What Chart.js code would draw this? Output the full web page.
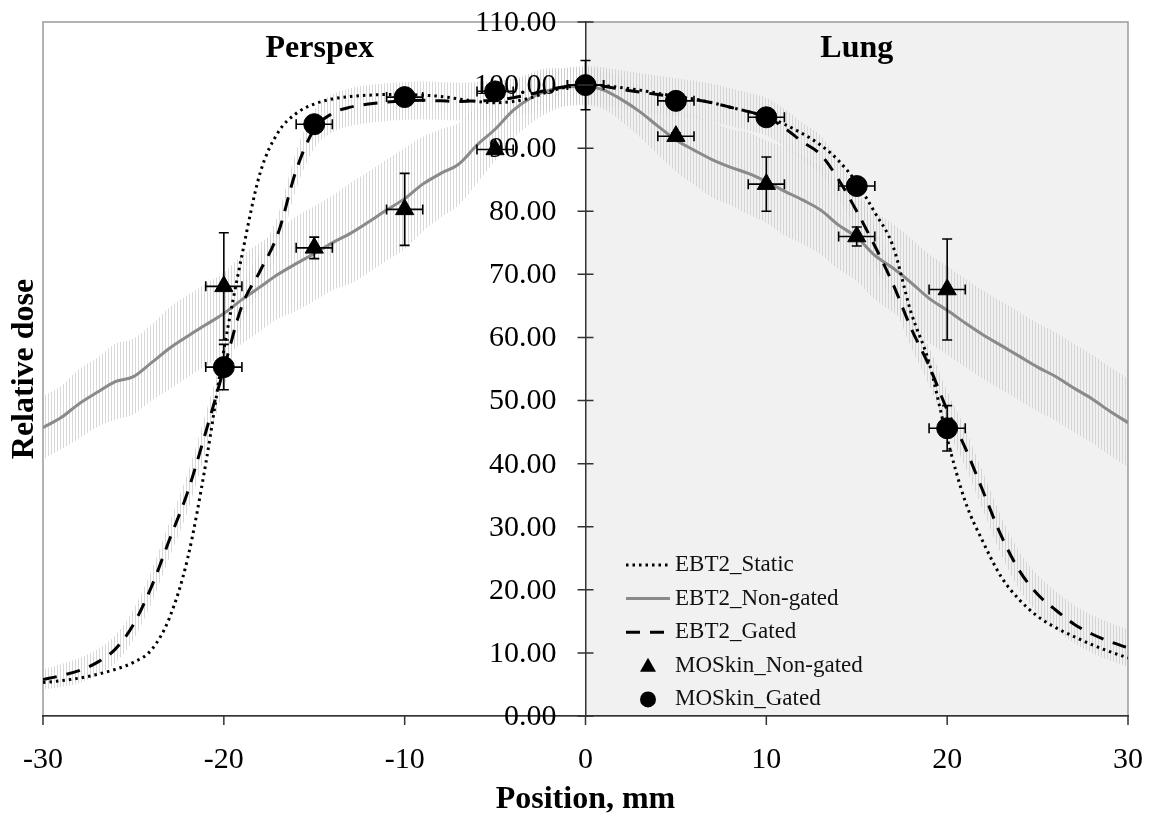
<!DOCTYPE html>
<html>
<head>
<meta charset="utf-8">
<script src="https://cdn.jsdelivr.net/npm/chart.js@4.4.0/dist/chart.umd.min.js"></script>
<style>
  html, body { margin: 0; padding: 0; background: #fff; }
  #wrap { width: 1152px; height: 819px; }
</style>
</head>
<body>
<div id="wrap"><canvas id="dose-chart" width="1152" height="819"></canvas></div>
<script>
// Profile positions (mm)
const positions = [-30,-29,-28,-27,-26,-25,-24,-23,-22,-21,-20,-19,-18,-17,-16,-15,-14,-13,-12,-11,
  -10,-9,-8,-7,-6,-5,-4,-3,-2,-1,0,1,2,3,4,5,6,7,8,9,10,11,12,13,14,15,16,17,18,19,20,
  21,22,23,24,25,26,27,28,29,30];

// EBT2 film profiles (relative dose)
const ebt2Static = [5.3,5.6,6.0,6.6,7.4,8.5,10.5,15.6,25,40,58,73,86,92.5,95.5,97,97.8,98.2,98.4,98.5,
  98.5,98.4,98.2,97.8,97.4,97.2,97.4,98,99,99.7,100,99.9,99.6,99.2,98.7,98.2,97.8,97.2,96.5,95.8,95,
  93.8,92.3,90.5,88,84.5,79.8,74.5,64,56,44,34,27.5,22,18.4,15.8,14,12.6,11.3,10.2,9.2];

const ebt2NonGated = [45.7,47.3,49.5,51.3,53,53.8,56,58.3,60.2,62,63.8,66,68,70,71.7,73.3,75,76.5,78.3,80.2,
  82,84.3,86,87.5,90.5,93,96,98,99.2,99.7,99.8,99.2,97.7,95.8,93.5,91.3,89.7,88.2,87,86,84.7,
  83.2,81.8,80.2,77.8,75.9,73,71,68.7,66.2,64.3,62.3,60.4,58.7,57,55.3,53.8,52,50.3,48.3,46.5];

const ebt2NonGatedErr = [5,5,5.5,5.5,6,6,6,6.5,6.5,6.5,6.5,7,7,7,7.5,7.5,7.5,8,8,8,
  8,7.5,7,6.5,6,5,4.5,4,3.5,3,3,3,3.5,4,4.5,5,5.5,6,6,6.5,6.5,
  7,7,7,7,7,7,7,7,7,7,7,7,7,7,7,7,7,7,7,7];

const ebt2Gated = [5.8,6.4,7.2,8.5,10.6,14.5,20.5,28,35.5,45,55,65,70.5,76.5,86.5,93,95.5,96.5,97,97.3,
  97.5,97.6,97.5,97.4,97.5,97.6,98,98.6,99.3,99.8,100,99.8,99.3,98.9,98.5,98.1,97.7,97.2,96.5,95.8,95,
  93.2,91,89,85,80,74.5,68.5,61.5,55.5,48.5,42.5,35.5,28.5,23,19.3,16.8,14.6,13,11.8,10.8];

const ebt2GatedErr = [1.6,1.8,2,2,2.2,2.4,2.6,2.8,3,3,3,3,3,3,3,3,3,3,3,3,
  3,3,3,3,3,3,3,3,3,3,3,3,3,3,3,3,3,3,3,3,3,
  3,3,3,3,3,3,3,3,3,3,3,3,3,3,3,3,3,3,3,3];

// MOSkin detector readings
const moskinPos = [-20,-15,-10,-5,0,5,10,15,20];
const moskinNonGated = [68.1,74.2,80.3,89.8,100,91.9,84.3,76,67.6];
const moskinNonGatedErr = [8.5,1.7,5.7,0.5,3.9,0.5,4.3,1.5,8];
const moskinGated = [55.3,93.8,98.1,99,100,97.5,94.9,84,45.6];
const moskinGatedErr = [3.6,0.6,0.5,0.5,0.5,0.5,0.6,0.6,3.6];
const moskinPosErr = 1;

const serif = '"Liberation Serif", "Times New Roman", serif';

function pts(ys) { return positions.map((x, i) => ({ x, y: ys[i] })); }
function band(ys, err, sign) { return positions.map((x, i) => ({ x, y: ys[i] + sign * err[i] })); }

function hatch(color) {
  const p = document.createElement('canvas');
  p.width = 3; p.height = 4;
  const g = p.getContext('2d');
  g.fillStyle = color;
  g.fillRect(0, 0, 1, 4);
  return g.createPattern(p, 'repeat');
}
const hatchFill = hatch('rgba(200,200,200,0.7)');

const curveBase = { pointRadius: 0, borderWidth: 3, cubicInterpolationMode: 'monotone', fill: false };

// Lung half shading + frame + region labels + axis titles
const backdrop = {
  id: 'backdrop',
  beforeDraw(chart) {
    const { ctx, chartArea: a, scales: { x } } = chart;
    ctx.save();
    ctx.fillStyle = '#f1f1f1';
    const x0 = x.getPixelForValue(0);
    ctx.fillRect(x0, a.top, a.right - x0, a.bottom - a.top);
    ctx.strokeStyle = '#9a9a9a';
    ctx.lineWidth = 1.5;
    ctx.strokeRect(a.left, a.top, a.right - a.left, a.bottom - a.top);
    ctx.restore();
  },
  afterDraw(chart) {
    const { ctx, scales: { x, y } } = chart;
    ctx.save();
    ctx.fillStyle = '#000';
    ctx.font = 'bold 32px ' + serif;
    ctx.textAlign = 'center';
    ctx.textBaseline = 'middle';
    ctx.fillText('Perspex', x.getPixelForValue(-14.7), y.getPixelForValue(105.8));
    ctx.fillText('Lung', x.getPixelForValue(15), y.getPixelForValue(105.8));
    ctx.fillText('Position, mm', x.getPixelForValue(0), 800);
    ctx.translate(25, (y.top + y.bottom) / 2);
    ctx.rotate(-Math.PI / 2);
    ctx.fillText('Relative dose', 0, 0);
    ctx.restore();
  }
};

// Tick marks crossing the axes, y labels left of the centre axis
const tickMarks = {
  id: 'tickMarks',
  afterDraw(chart) {
    const { ctx, scales: { x, y } } = chart;
    const x0 = x.getPixelForValue(0);
    ctx.save();
    ctx.strokeStyle = '#333';
    ctx.lineWidth = 1.5;
    ctx.beginPath();
    y.ticks.forEach(t => {
      const py = y.getPixelForValue(t.value);
      ctx.moveTo(x0 - 8, py); ctx.lineTo(x0 + 8, py);
    });
    x.ticks.forEach(t => {
      const px = x.getPixelForValue(t.value);
      ctx.moveTo(px, y.bottom); ctx.lineTo(px, y.bottom + 9);
    });
    ctx.stroke();
    ctx.fillStyle = '#000';
    ctx.font = '30px ' + serif;
    ctx.textAlign = 'right';
    ctx.textBaseline = 'middle';
    y.ticks.forEach(t => {
      ctx.fillText(t.value.toFixed(2), x0 - 29, y.getPixelForValue(t.value) + 1);
    });
    ctx.restore();
  }
};

// Error bars for the MOSkin points
const errorBars = {
  id: 'errorBars',
  afterDatasetsDraw(chart) {
    const { ctx, scales: { x, y } } = chart;
    ctx.save();
    ctx.strokeStyle = '#000';
    ctx.lineWidth = 1.6;
    chart.data.datasets.forEach(ds => {
      if (!ds.errY) return;
      ds.data.forEach((p, i) => {
        const px = x.getPixelForValue(p.x), py = y.getPixelForValue(p.y);
        const xl = x.getPixelForValue(p.x - ds.errX), xr = x.getPixelForValue(p.x + ds.errX);
        const yt = y.getPixelForValue(p.y + ds.errY[i]), yb = y.getPixelForValue(p.y - ds.errY[i]);
        ctx.beginPath();
        ctx.moveTo(xl, py); ctx.lineTo(xr, py);
        ctx.moveTo(xl, py - 5); ctx.lineTo(xl, py + 5);
        ctx.moveTo(xr, py - 5); ctx.lineTo(xr, py + 5);
        ctx.moveTo(px, yt); ctx.lineTo(px, yb);
        ctx.moveTo(px - 5, yt); ctx.lineTo(px + 5, yt);
        ctx.moveTo(px - 5, yb); ctx.lineTo(px + 5, yb);
        ctx.stroke();
      });
    });
    ctx.restore();
  }
};

// Legend drawn inside the plot
const legendBox = {
  id: 'legendBox',
  afterDraw(chart) {
    const { ctx } = chart;
    const items = [
      { label: 'EBT2_Static', kind: 'dot' },
      { label: 'EBT2_Non-gated', kind: 'solid' },
      { label: 'EBT2_Gated', kind: 'dash' },
      { label: 'MOSkin_Non-gated', kind: 'tri' },
      { label: 'MOSkin_Gated', kind: 'circ' }
    ];
    const lx = 626, tx = 675;
    ctx.save();
    ctx.font = '23px ' + serif;
    ctx.textBaseline = 'middle';
    items.forEach((it, i) => {
      const yy = 565 + i * 33.6;
      ctx.fillStyle = '#111';
      ctx.fillText(it.label, tx, yy);
      ctx.beginPath();
      if (it.kind === 'dot' || it.kind === 'solid' || it.kind === 'dash') {
        ctx.lineWidth = 3;
        ctx.strokeStyle = it.kind === 'solid' ? '#8a8a8a' : '#000';
        ctx.setLineDash(it.kind === 'dot' ? [2.5, 4] : it.kind === 'dash' ? [14, 10] : []);
        ctx.moveTo(lx, yy); ctx.lineTo(lx + 44, yy);
        ctx.stroke();
        ctx.setLineDash([]);
      } else if (it.kind === 'tri') {
        ctx.fillStyle = '#000';
        ctx.moveTo(lx + 22, yy - 8); ctx.lineTo(lx + 30, yy + 6); ctx.lineTo(lx + 14, yy + 6);
        ctx.closePath(); ctx.fill();
      } else {
        ctx.fillStyle = '#000';
        ctx.arc(lx + 22, yy, 8, 0, Math.PI * 2); ctx.fill();
      }
    });
    ctx.restore();
  }
};

new Chart(document.getElementById('dose-chart'), {
  type: 'line',
  data: {
    datasets: [
      {
        label: 'MOSkin_Gated', data: moskinPos.map((x, i) => ({ x, y: moskinGated[i] })),
        showLine: false, pointStyle: 'circle', pointRadius: 10.5,
        pointBackgroundColor: '#000', pointBorderColor: '#000', order: 0,
        errY: moskinGatedErr, errX: moskinPosErr
      },
      {
        label: 'MOSkin_Non-gated', data: moskinPos.map((x, i) => ({ x, y: moskinNonGated[i] })),
        showLine: false, pointStyle: 'triangle', pointRadius: 10.5,
        pointBackgroundColor: '#000', pointBorderColor: '#000', order: 0,
        errY: moskinNonGatedErr, errX: moskinPosErr
      },
      { ...curveBase, label: 'EBT2_Static', data: pts(ebt2Static), borderColor: '#000', borderDash: [2.5, 4], order: 1 },
      { ...curveBase, label: 'EBT2_Gated', data: pts(ebt2Gated), borderColor: '#000', borderDash: [14, 10], order: 1 },
      { ...curveBase, label: 'EBT2_Non-gated', data: pts(ebt2NonGated), borderColor: '#8a8a8a', order: 1 },
      // uncertainty bands (hatched)
      { ...curveBase, label: 'ng_hi', data: band(ebt2NonGated, ebt2NonGatedErr, 1), borderWidth: 0, borderColor: 'transparent', backgroundColor: hatchFill, fill: '+1', order: 2 },
      { ...curveBase, label: 'ng_lo', data: band(ebt2NonGated, ebt2NonGatedErr, -1), borderWidth: 0, borderColor: 'transparent', order: 2 },
      { ...curveBase, label: 'g_hi', data: band(ebt2Gated, ebt2GatedErr, 1), borderWidth: 0, borderColor: 'transparent', backgroundColor: hatchFill, fill: '+1', order: 2 },
      { ...curveBase, label: 'g_lo', data: band(ebt2Gated, ebt2GatedErr, -1), borderWidth: 0, borderColor: 'transparent', order: 2 }
    ]
  },
  options: {
    responsive: false,
    animation: false,
    layout: { padding: { left: 43, right: 24, top: 22, bottom: 23 } },
    plugins: {
      legend: { display: false },
      tooltip: { enabled: false }
    },
    scales: {
      x: {
        type: 'linear', min: -30, max: 30,
        grid: { display: false },
        border: { color: '#333', width: 1.5 },
        ticks: { stepSize: 10, color: '#000', font: { family: serif, size: 30 }, padding: 18 },
        afterFit(scale) { scale.paddingLeft = 0; scale.paddingRight = 0; }
      },
      y: {
        type: 'linear', min: 0, max: 110, position: { x: 0 },
        grid: { display: false },
        border: { color: '#333', width: 1.5 },
        ticks: { stepSize: 10, display: false }
      }
    }
  },
  plugins: [backdrop, tickMarks, errorBars, legendBox]
});
</script>
</body>
</html>
